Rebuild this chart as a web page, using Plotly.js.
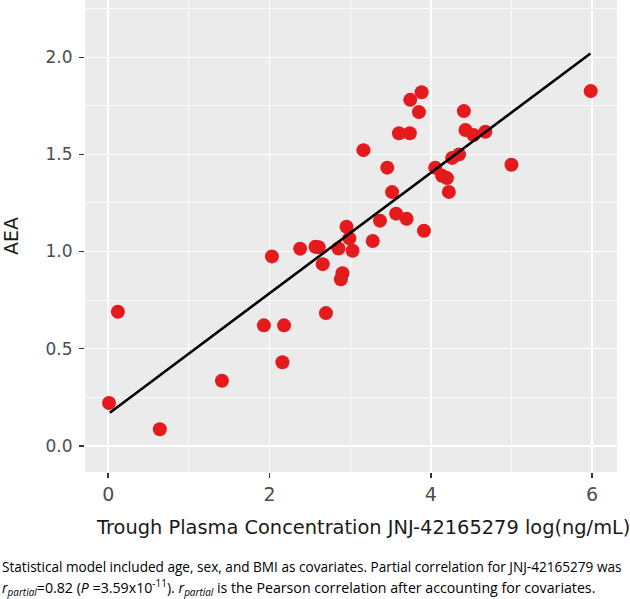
<!DOCTYPE html>
<html>
<head>
<meta charset="utf-8">
<script src="https://cdn.plot.ly/plotly-3.0.1.min.js"></script>
<style>html,body{margin:0;padding:0;background:#fff;}#chart{width:630px;height:599px;}</style>
</head>
<body>
<div id="chart"></div>
<script>
// Trough plasma concentration, log(ng/mL)
const concLog = [0.01, 0.12, 0.64, 1.41, 1.93, 2.18, 2.16, 2.03, 2.38, 2.57, 2.61, 2.66, 2.70, 2.905, 2.885, 2.855, 2.955, 2.99, 3.03, 3.28, 3.37, 3.57, 3.70, 3.915, 3.52, 3.46, 3.165, 3.605, 3.74, 3.853, 3.745, 3.886, 4.41, 4.43, 4.53, 4.677, 4.35, 4.265, 4.055, 4.14, 4.20, 4.224, 5.0, 5.983];
// AEA values
const aea = [0.22, 0.69, 0.085, 0.335, 0.62, 0.62, 0.43, 0.975, 1.015, 1.025, 1.022, 0.935, 0.683, 0.888, 0.857, 1.016, 1.128, 1.068, 1.004, 1.054, 1.159, 1.195, 1.169, 1.107, 1.306, 1.432, 1.522, 1.609, 1.609, 1.718, 1.781, 1.82, 1.723, 1.626, 1.60, 1.617, 1.50, 1.482, 1.432, 1.39, 1.378, 1.307, 1.447, 1.826];
// Fitted line endpoints
const fitLineX = [0.02, 5.98];
const fitLineY = [0.17, 2.02];
const xTickVals = [0, 2, 4, 6];
const xTickText = ['0', '2', '4', '6'];
const yTickVals = [0, 0.5, 1, 1.5, 2];
const yTickText = ['0.0', '0.5', '1.0', '1.5', '2.0'];

const W = 630, H = 599, mL = 85, mR = 13, mT = 0, mB = 127;
const pw = W - mL - mR, ph = H - mT - mB;
const px = v => (v - mL) / pw;
const py = v => 1 - (v - mT) / ph;

const traces = [
  {x: concLog, y: aea, type: 'scatter', mode: 'markers',
   marker: {size: 14, color: '#E41A1C', line: {width: 0}}, hoverinfo: 'x+y'},
  {x: fitLineX, y: fitLineY, type: 'scatter', mode: 'lines',
   line: {color: '#000000', width: 2.6}, hoverinfo: 'skip'}
];

const layout = {
  width: W, height: H,
  margin: {l: mL, r: mR, t: mT, b: mB, pad: 0},
  paper_bgcolor: '#FFFFFF', plot_bgcolor: '#EBEBEB',
  showlegend: false,
  xaxis: {range: [-0.288, 6.309], tickvals: xTickVals, ticktext: xTickText,
    showgrid: true, gridcolor: '#FFFFFF', gridwidth: 1.6, zeroline: false, showline: false,
    ticks: 'outside', ticklen: 5, tickwidth: 1.6, tickcolor: '#333333',
    tickfont: {family: 'DejaVu Sans', size: 19, color: '#4D4D4D'}, ticklabelstandoff: 0,
    minor: {dtick: 1, tick0: 0, showgrid: true, gridcolor: '#FFFFFF', gridwidth: 0.8, ticks: ''}},
  yaxis: {range: [-0.135, 2.295], tickvals: yTickVals, ticktext: yTickText,
    showgrid: true, gridcolor: '#FFFFFF', gridwidth: 1.6, zeroline: false, showline: false,
    ticks: 'outside', ticklen: 5, tickwidth: 1.6, tickcolor: '#333333',
    tickfont: {family: 'DejaVu Sans', size: 17, color: '#4D4D4D'}, ticklabelstandoff: 3,
    title: {text: 'AEA', font: {family: 'DejaVu Sans', size: 19, color: '#1A1A1A'}, standoff: 21},
    minor: {dtick: 0.25, tick0: 0, showgrid: true, gridcolor: '#FFFFFF', gridwidth: 0.8, ticks: ''}},
  annotations: [
    {xref: 'paper', yref: 'paper', x: px(362.5), y: py(527), xanchor: 'center', yanchor: 'middle',
     text: 'Trough Plasma Concentration JNJ-42165279 log(ng/mL)', showarrow: false,
     font: {family: 'DejaVu Sans', size: 19.4, color: '#1A1A1A'}},
    {xref: 'paper', yref: 'paper', x: px(0), y: py(566.5), xanchor: 'left', yanchor: 'middle',
     text: 'Statistical model included age, sex, and BMI as covariates. Partial correlation for JNJ-42165279 was',
     showarrow: false, font: {family: 'Open Sans', size: 13.6, color: '#000000'}},
    {xref: 'paper', yref: 'paper', x: px(0), y: py(587), xanchor: 'left', yanchor: 'middle',
     text: '<i>r<sub>partial</sub></i>=0.82 (<i>P</i> =3.59x10<sup>-11</sup>). <i>r<sub>partial</sub></i> is the Pearson correlation after accounting for covariates.',
     showarrow: false, font: {family: 'Open Sans', size: 14.2, color: '#000000'}}
  ]
};

Plotly.newPlot('chart', traces, layout, {staticPlot: true, displayModeBar: false});
</script>
</body>
</html>
